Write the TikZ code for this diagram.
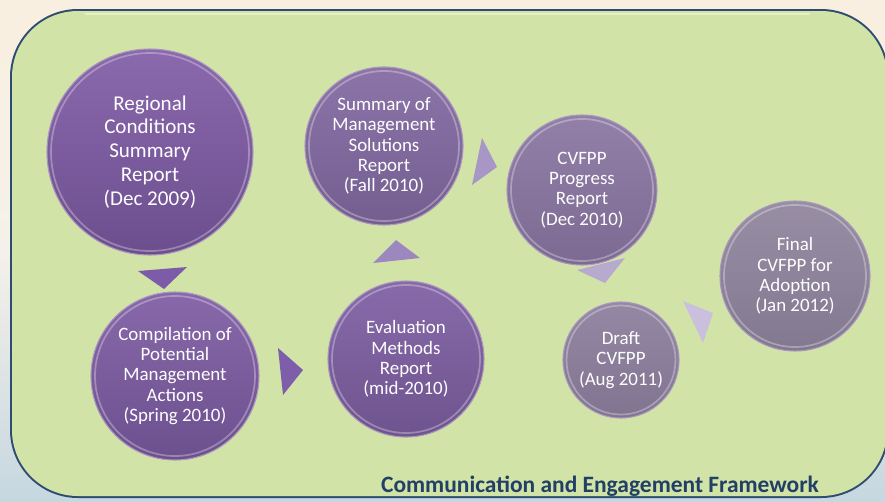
\documentclass[tikz,border=0pt]{standalone}
\usepackage{fontspec}
\setmainfont{Carlito}
\begin{document}
\begin{tikzpicture}[x=0.75pt,y=-0.75pt]
\definecolor{bgtop}{HTML}{F9EFE0}
\definecolor{bgmid}{HTML}{F5F1EA}
\definecolor{bgbot}{HTML}{C6D7E0}
\definecolor{panel}{HTML}{D1E3A7}
\definecolor{panelhi}{HTML}{E6F0C4}
\definecolor{rimblue}{HTML}{2E4C72}
\definecolor{titleblue}{HTML}{223F66}
\tikzset{
  stage/.style={circle, inner sep=0pt, align=center, text=white, draw={rgb,255:red,170;green,150;blue,190}, line width=0.8pt},
  rim/.style={white, opacity=0.3, line width=1.3pt},
  arrowtri/.style={draw=none},
  big/.style={font=\fontsize{15.8}{17.9}\selectfont},
  small/.style={font=\fontsize{14.2}{15.2}\selectfont},
}
% background
\useasboundingbox (0,0) rectangle (885,501);
\shade[top color=bgtop, bottom color=bgbot, middle color=bgmid] (0,0) rectangle (885,501);
% panel
\fill[rimblue] (10,9) [rounded corners=68*0.75pt] rectangle (889,498);
\fill[panel] (12,11) [rounded corners=66*0.75pt] rectangle (887,496);
\draw[panelhi, line width=1.2pt] (85,14) -- (810,14);

% circles
\node[stage, minimum size=154.5pt, top color={rgb,255:red,138;green,105;blue,173}, bottom color={rgb,255:red,108;green,78;blue,142}, big] (c1) at (150,152) {Regional\\Conditions\\Summary\\Report\\(Dec 2009)};
\node[stage, minimum size=126pt, top color={rgb,255:red,136;green,104;blue,170}, bottom color={rgb,255:red,108;green,80;blue,142}, small] (c2) at (175,376) {Compilation of\\Potential\\Management\\Actions\\(Spring 2010)};
\node[stage, minimum size=117pt, top color={rgb,255:red,136;green,106;blue,170}, bottom color={rgb,255:red,110;green,84;blue,142}, small] (c3) at (406,359) {Evaluation\\Methods\\Report\\(mid-2010)};
\node[stage, minimum size=118.5pt, top color={rgb,255:red,140;green,116;blue,168}, bottom color={rgb,255:red,116;green,94;blue,144}, small] (c4) at (384,146) {Summary of\\Management\\Solutions\\Report\\(Fall 2010)};
\node[stage, minimum size=112.5pt, top color={rgb,255:red,146;green,128;blue,168}, bottom color={rgb,255:red,124;green,106;blue,146}, small] (c5) at (582,190) {CVFPP\\Progress\\Report\\(Dec 2010)};
\node[stage, minimum size=87pt, top color={rgb,255:red,148;green,136;blue,164}, bottom color={rgb,255:red,128;green,116;blue,144}, small] (c6) at (621,360) {Draft\\CVFPP\\(Aug 2011)};
\node[stage, minimum size=112.5pt, top color={rgb,255:red,152;green,142;blue,164}, bottom color={rgb,255:red,130;green,120;blue,144}, small] (c7) at (795,276) {Final\\CVFPP for\\Adoption\\(Jan 2012)};

% bevel rims
\draw[rim] (c1.center) circle[radius=99*0.75pt];
\draw[rim] (c2.center) circle[radius=80*0.75pt];
\draw[rim] (c3.center) circle[radius=74*0.75pt];
\draw[rim] (c4.center) circle[radius=75*0.75pt];
\draw[rim] (c5.center) circle[radius=71*0.75pt];
\draw[rim] (c6.center) circle[radius=54.5*0.75pt];
\draw[rim] (c7.center) circle[radius=71*0.75pt];

% arrow triangles
\fill[arrowtri, fill={rgb,255:red,124;green,92;blue,168}] (138,271) -- (187,267) -- (164,289) -- cycle;
\fill[arrowtri, fill={rgb,255:red,126;green,94;blue,170}] (278,348) -- (303,370) -- (283,395) -- cycle;
\fill[arrowtri, fill={rgb,255:red,156;green,136;blue,190}] (373,263) -- (396,240) -- (420,258) -- cycle;
\fill[arrowtri, fill={rgb,255:red,168;green,150;blue,198}] (482,138) -- (497,167) -- (472,185) -- cycle;
\fill[arrowtri, fill={rgb,255:red,184;green,170;blue,206}] (577,270) -- (625,258) -- (605,283) -- cycle;
\fill[arrowtri, fill={rgb,255:red,202;green,192;blue,222}] (683,301) -- (713,313) -- (703,343) -- cycle;

% title
\node[font=\fontsize{17.6}{20}\selectfont\bfseries, text=titleblue] (title) at (600,486) {Communication and Engagement Framework};
\end{tikzpicture}
\end{document}
